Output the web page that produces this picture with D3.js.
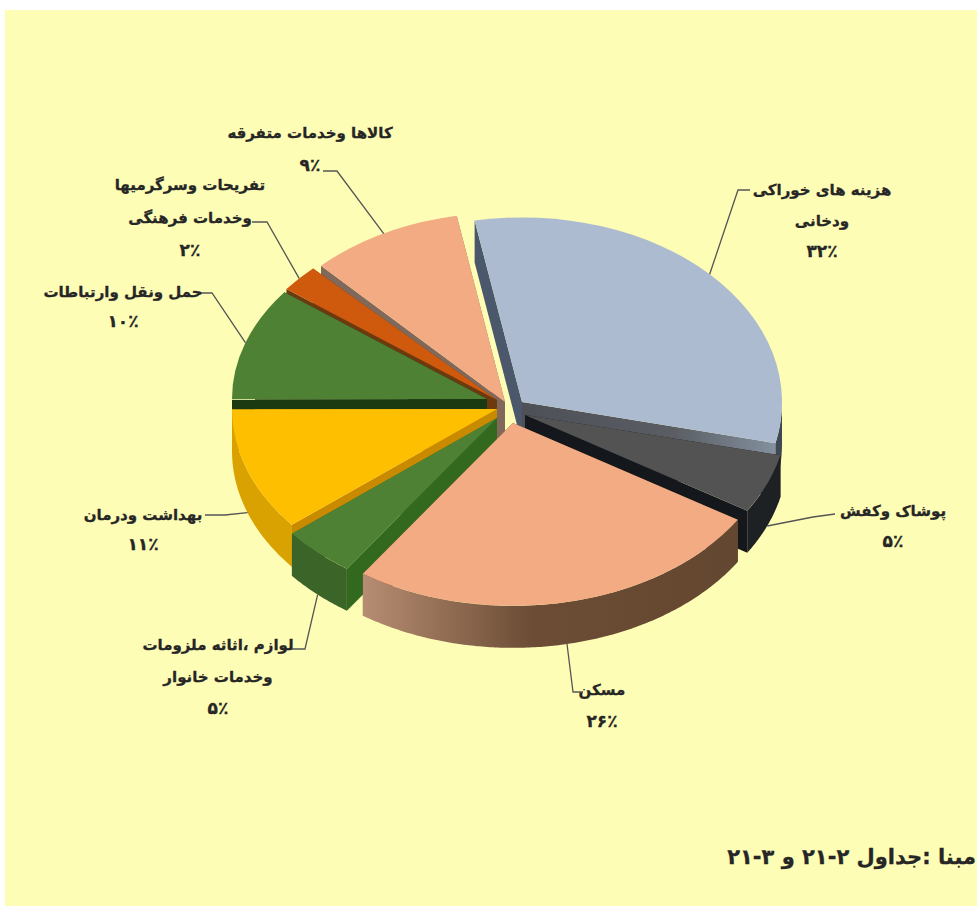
<!DOCTYPE html>
<html>
<head>
<meta charset="utf-8">
<script src="https://cdn.jsdelivr.net/npm/d3@7"></script>
<style>
  html, body { margin: 0; padding: 0; background: #fff; }
  svg { display: block; }
  text { font-family: "DejaVu Sans", sans-serif; font-weight: bold; fill: #262626; stroke: #262626; stroke-width: 0.3; direction: rtl; }
</style>
</head>
<body>
<div id="display"></div>
<script>
// wedge sizes
var shares = [31.5, 5.3, 25.7, 4.5, 10.9, 10.4, 2.4, 9.3];
// percentages as printed next to the wedges
var percents = ['۳۲٪', '۵٪', '۲۶٪', '۵٪', '۱۱٪', '۱۰٪', '۲٪', '۹٪'];
var labelLines = [
    ['هزینه های خوراکی', 'ودخانی'],
    ['پوشاک وکفش'],
    ['مسکن'],
    ['لوازم ،اثاثه ملزومات', 'وخدمات خانوار'],
    ['بهداشت ودرمان'],
    ['حمل ونقل وارتباطات'],
    ['تفریحات وسرگرمیها', 'وخدمات فرهنگی'],
    ['کالاها وخدمات متفرقه']
];
var sourceText = 'مبنا :جداول ۲-۲۱ و ۳-۲۱';

// layout, per wedge
var width = 977, height = 912;
var radius = [260, 262, 265, 265, 265, 255, 265, 265];
var centers = [[522, 402], [525, 415], [513, 423], [497, 418], [497, 409], [487, 399], [497, 400], [505, 402]];
var tilts = [0.71, 0.69, 0.69, 0.69, 0.69, 0.69, 0.69, 0.715];
var topColors = ['#adbbd1', '#535353', '#f3ab83', '#4e8133', '#fdbf00', '#4f8134', '#cf5a0e', '#f3ab83'];
var wallColors = ['#3f4855', '#1e2124', 'url(#salmonWall)', '#3b6428', '#d9a200', '#1c3a12', '#7a3a0c', '#8b7565'];
var startCutColors = ['#4b586c', '#14181c', '#6b4a33', '#33691f', '#c98a00', '#1c3a12', '#6d3a10', '#80695a'];
var endCutColors = ['url(#blueCut)', '#14181c', '#6b4a33', '#33691f', '#c98a00', '#1c3a12', '#6d3a10', '#80695a'];
// label block: centre x, y of the first line, line gap
var labelPos = [[822, 190, 31], [893, 511, 31], [602, 690, 32], [218, 645, 32], [143, 515, 30], [123, 292, 30], [190, 185, 33], [310, 133, 33]];
// leader elbows, from the label towards the wedge
var leaders = [
    [[750, 190], [738, 190]],
    [[835, 514], [813, 517]],
    [[583, 692], [573, 692]],
    [[292, 649], [305, 649]],
    [[205, 515], [225, 515]],
    [[198, 293], [212, 293]],
    [[252, 222], [267, 222]],
    [[323, 171], [337, 171]]
];
// painted from the back of the pie to the front
var paintOrder = [7, 6, 5, 4, 3, 0, 1, 2];

var depth = 42, fontSize = 15, percentSize = 17;

var svg = d3.select('#display').append('svg').attr('width', width).attr('height', height);

var defs = svg.append('defs');
var g1 = defs.append('linearGradient').attr('id', 'salmonWall');
g1.append('stop').attr('offset', '0').attr('stop-color', '#b68d72');
g1.append('stop').attr('offset', '0.45').attr('stop-color', '#6c4c35');
g1.append('stop').attr('offset', '1').attr('stop-color', '#644730');
var g2 = defs.append('linearGradient').attr('id', 'blueCut');
g2.append('stop').attr('offset', '0').attr('stop-color', '#4d5157');
g2.append('stop').attr('offset', '0.6').attr('stop-color', '#5a5e64');
g2.append('stop').attr('offset', '1').attr('stop-color', '#84909e');

svg.append('rect').attr('x', 5).attr('y', 10).attr('width', width - 5).attr('height', 896).attr('fill', '#fdfdb5');

var pie = d3.pie().sort(null).startAngle(-10.5 * Math.PI / 180).endAngle(349.5 * Math.PI / 180);
var slices = pie(shares);

// point on the rim of wedge i at angle a, on the top face
function rim(i, a, drop) {
    return [centers[i][0] + radius[i] * Math.sin(a),
            centers[i][1] - radius[i] * Math.cos(a) * tilts[i] + (drop || 0)];
}
var line = d3.line();

function drawWedge(i) {
    var s = slices[i];
    var g = svg.append('g');

    // cut faces
    [[s.startAngle, startCutColors[i]], [s.endAngle, endCutColors[i]]].forEach(function(c) {
        var p = rim(i, c[0]), q = rim(i, c[0], depth);
        g.append('path')
            .attr('d', line([centers[i], p, q, [centers[i][0], centers[i][1] + depth]]) + 'Z')
            .attr('fill', c[1]);
    });

    // outer wall, only the part that faces the viewer
    var from = Math.max(s.startAngle, Math.PI / 2), to = Math.min(s.endAngle, 3 * Math.PI / 2);
    if (to > from) {
        var angles = d3.range(from, to, 0.01).concat([to]);
        var pts = angles.map(function(a) { return rim(i, a); })
            .concat(angles.slice().reverse().map(function(a) { return rim(i, a, depth); }));
        g.append('path').attr('d', line(pts) + 'Z').attr('fill', wallColors[i]);
    }

    // top face
    var arc = d3.arc().innerRadius(0).outerRadius(radius[i]);
    g.append('path')
        .attr('transform', 'translate(' + centers[i][0] + ',' + centers[i][1] + ') scale(1,' + tilts[i] + ')')
        .attr('d', arc(s))
        .attr('fill', topColors[i]);
}
paintOrder.forEach(drawWedge);

// leaders run to the middle of each wedge's rim
leaders.forEach(function(elbow, i) {
    var s = slices[i], mid = (s.startAngle + s.endAngle) / 2;
    var front = Math.cos(mid) < 0;
    svg.append('path')
        .attr('d', line(elbow.concat([rim(i, mid, front ? depth : 0)])))
        .attr('fill', 'none')
        .attr('stroke', '#555')
        .attr('stroke-width', 1.3);
});

labelLines.forEach(function(lines, i) {
    var pos = labelPos[i];
    lines.concat([percents[i]]).forEach(function(t, k) {
        svg.append('text')
            .attr('x', pos[0])
            .attr('y', pos[1] + k * pos[2] + 5)
            .attr('text-anchor', 'middle')
            .attr('font-size', k === lines.length ? percentSize : fontSize)
            .text(t);
    });
});

svg.append('text')
    .attr('x', 976)
    .attr('y', 864)
    .attr('text-anchor', 'start')
    .attr('font-size', 21)
    .text(sourceText);
</script>
</body>
</html>
